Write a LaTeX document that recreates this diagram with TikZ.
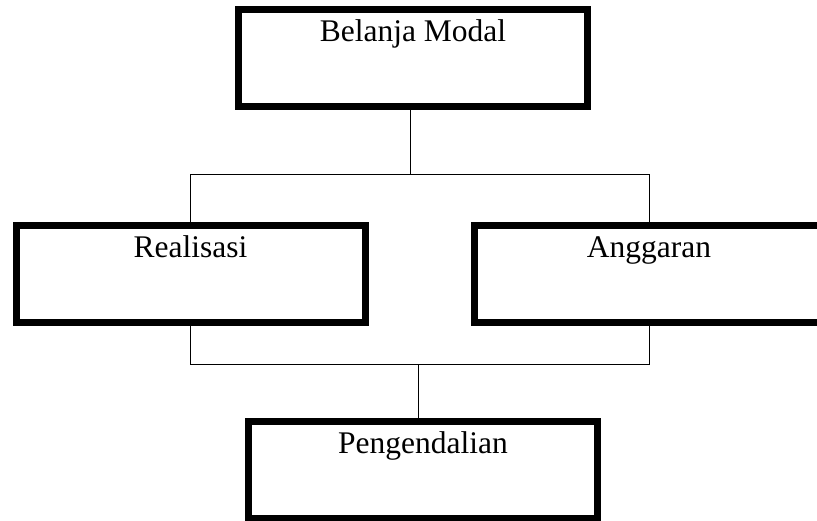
\documentclass[tikz,border=0pt]{standalone}
\usepackage{fontspec}
\setmainfont{Liberation Serif}
\begin{document}
\begin{tikzpicture}[x=1pt,y=-1pt,
    box/.style={draw,line width=7pt,minimum width=349pt,inner xsep=4pt,inner ysep=4pt,
      text height=27.5pt,text depth=61.5pt,font=\fontsize{31.5}{38}\selectfont},
    conn/.style={line width=1pt}]
    \useasboundingbox (0,0) rectangle (817,520);
    \clip (0,0) rectangle (817,520);
    \node[box] (bm) at (413,58) {Belanja Modal};
    \node[box] (rz) at (190.5,274) {Realisasi};
    \node[box] (ag) at (649,274) {Anggaran};
    \node[box] (pg) at (423,470) {Pengendalian};
    % upper fork
    \coordinate (up) at (410,174);
    \draw[conn] (bm.south -| up) -- (up);
    \draw[conn] (rz.north) -- ++(0,-48) -| (ag.north);
    % lower fork
    \coordinate (lo) at (418,364);
    \draw[conn] (rz.south) -- ++(0,38) -| (ag.south);
    \draw[conn] (lo) -- (pg.north -| lo);
  \end{tikzpicture}
\end{document}
